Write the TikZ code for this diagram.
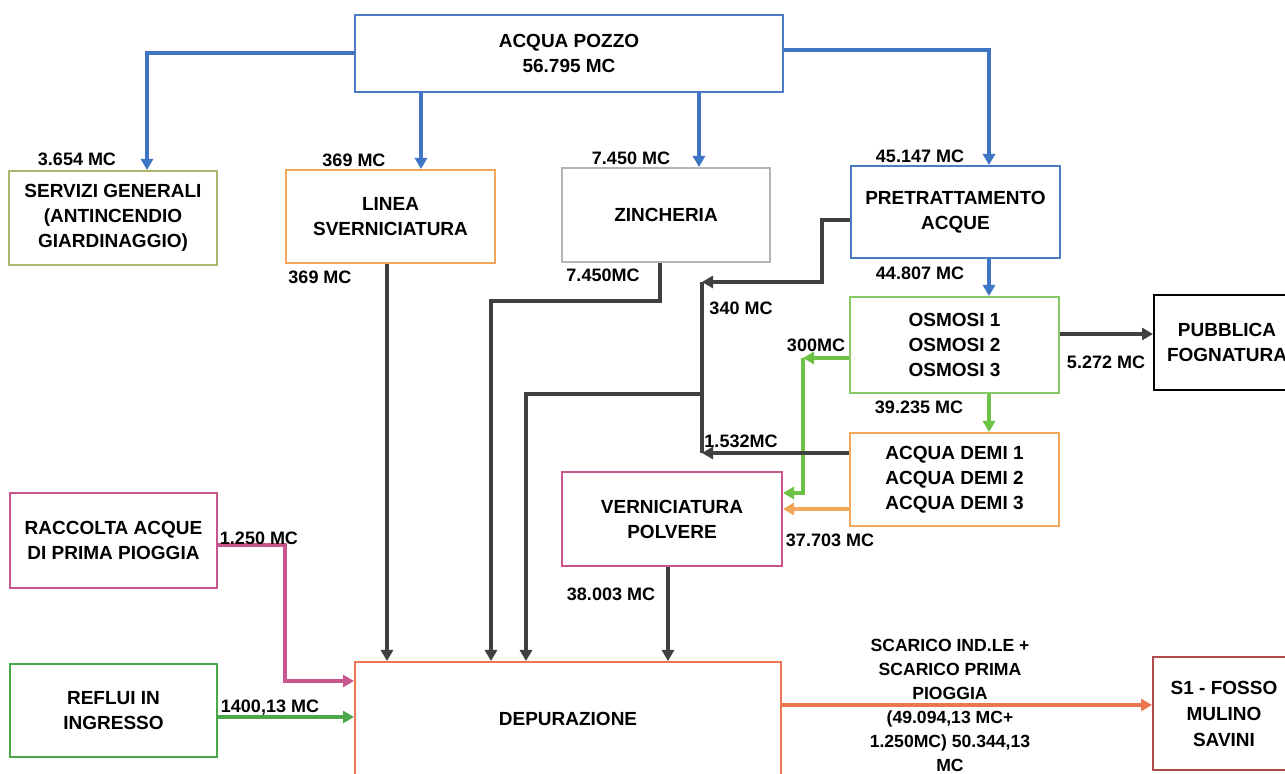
\documentclass[tikz,border=0pt]{standalone}
\usepackage{fontspec}
\setmainfont{Liberation Sans}
\usetikzlibrary{arrows.meta,positioning}

\definecolor{pozzoblue}{HTML}{4A7BC4}
\definecolor{flowblue}{HTML}{3D74C4}
\definecolor{oliveb}{HTML}{AEB56E}
\definecolor{orangeb}{HTML}{F2A65A}
\definecolor{greyb}{HTML}{B4B4B4}
\definecolor{greenb}{HTML}{86C866}
\definecolor{greenf}{HTML}{6CC244}
\definecolor{pinkb}{HTML}{C8558C}
\definecolor{darkf}{HTML}{404040}
\definecolor{depurb}{HTML}{EC7650}
\definecolor{refluib}{HTML}{4AA84A}
\definecolor{sonebox}{HTML}{B04A4A}

\begin{document}
\begin{tikzpicture}[x=0.5pt,y=-0.5pt]
			\tikzstyle{Box}		= [draw, line width=1pt, fill=white, align=center, inner sep=2pt, font=\fontsize{9.5}{12.5}\selectfont\bfseries]
			\tikzstyle{Num}		= [inner sep=0pt, font=\fontsize{9}{10}\selectfont\bfseries]
			\tikzstyle{Flow}	= [line width=2pt, -{Triangle[length=5.5pt,width=6pt]}]
			\tikzstyle{BlueFlow}	= [Flow, flowblue]
			\tikzstyle{DarkFlow}	= [Flow, darkf]
			\tikzstyle{DarkLine}	= [line width=2pt, darkf]
			\tikzstyle{GreenFlow}	= [Flow, greenf]

			\path[use as bounding box, fill=white] (0,0) rectangle (1285,774);

			% boxes
			\node (pozzo) at (569,53.5) [Box, draw=pozzoblue, minimum width=214pt, minimum height=38.5pt] {ACQUA POZZO\\56.795 MC};
			\node (servizi) at (113,218) [Box, draw=oliveb, minimum width=104pt, minimum height=47pt] {SERVIZI GENERALI\\(ANTINCENDIO\\GIARDINAGGIO)};
			\node (linea) at (390.5,216.5) [Box, draw=orangeb, minimum width=104.5pt, minimum height=46.5pt] {LINEA\\SVERNICIATURA};
			\node (zinch) at (666,215) [Box, draw=greyb, minimum width=104pt, minimum height=47pt] {ZINCHERIA};
			\node (pretr) at (955.5,212) [Box, draw=pozzoblue, minimum width=104.5pt, minimum height=46pt] {PRETRATTAMENTO\\ACQUE};
			\node (osmosi) at (954.5,345) [Box, draw=greenb, minimum width=104.5pt, minimum height=48pt] {OSMOSI 1\\OSMOSI 2\\OSMOSI 3};
			\node (fogn) at (1227,342.5) [Box, draw=black, minimum width=73pt, minimum height=47.5pt] {PUBBLICA\\FOGNATURA};
			\node (demi) at (954.5,479.5) [Box, draw=orangeb, minimum width=104.5pt, minimum height=46.5pt] {ACQUA DEMI 1\\ACQUA DEMI 2\\ACQUA DEMI 3};
			\node (vern) at (672,519) [Box, draw=pinkb, minimum width=110pt, minimum height=47pt] {VERNICIATURA\\POLVERE};
			\node (raccolta) at (113.5,540.5) [Box, draw=pinkb, minimum width=103.5pt, minimum height=47.5pt] {RACCOLTA ACQUE\\DI PRIMA PIOGGIA};
			\node (reflui) at (113.5,710.5) [Box, draw=refluib, minimum width=103.5pt, minimum height=46.5pt] {REFLUI IN\\INGRESSO};
			\node (depur) at (568,719) [Box, draw=depurb, minimum width=213pt, minimum height=57pt] {DEPURAZIONE};
			\node (sone) at (1224,713.5) [Box, draw=sonebox, minimum width=71pt, minimum height=56.5pt, font=\fontsize{9.5}{13}\selectfont\bfseries] {S1 - FOSSO\\MULINO\\SAVINI};

			% blue supply lines
			\draw [BlueFlow] (pozzo.west) -| ([xshift=17pt]servizi.north);
			\draw [BlueFlow] ([xshift=15.25pt]linea.north |- pozzo.south) -- ([xshift=15.25pt]linea.north);
			\draw [BlueFlow] ([xshift=16.5pt]zinch.north |- pozzo.south) -- ([xshift=16.5pt]zinch.north);
			\draw [BlueFlow] ([yshift=1.75pt]pozzo.east) -| ([xshift=16.75pt]pretr.north);
			\coordinate (pout) at ([xshift=16.75pt]pretr.south);
			\draw [BlueFlow] (pout) -- (pout |- osmosi.north);

			% osmosi
			\coordinate (oright) at ([yshift=5.5pt]osmosi.east);
			\draw [DarkFlow] (oright) -- (oright -| fogn.west);
			\coordinate (odown) at (pout |- osmosi.south);
			\draw [GreenFlow] (odown) -- (odown |- demi.north);
			\coordinate (oleft) at ([yshift=-6.5pt]osmosi.west);
			\coordinate (gbend) at (803,358);
			\draw [GreenFlow] (oleft) -- (gbend);
			\draw [GreenFlow] (gbend) |- ([yshift=13pt]vern.east);

			% acqua demi
			\coordinate (dorange) at ([yshift=-14.75pt]demi.west);
			\draw [Flow, orangeb] (dorange) -- (dorange -| vern.east);
			\coordinate (ddark) at ([yshift=13.25pt]demi.west);
			\coordinate (jbot) at (702,453);
			\draw [DarkFlow] (ddark) -- (jbot);

			% return lines to depurazione
			\coordinate (jtop) at (702,282);
			\draw [DarkFlow] ([yshift=-4pt]pretr.west) -- ++(-28,0) |- (jtop);
			\draw [DarkLine] (jtop) -- (jbot);
			\coordinate (jmid) at (702,394);
			\draw [DarkFlow] (jmid) -| ([xshift=-21pt]depur.north);
			\draw [DarkFlow] ([xshift=-3pt]zinch.south) -- ++(0,38) -| ([xshift=-38.5pt]depur.north);
			\coordinate (lout) at ([xshift=-1.75pt]linea.south);
			\draw [DarkFlow] (lout) -- (lout |- depur.north);
			\coordinate (vout) at ([xshift=-2pt]vern.south);
			\draw [DarkFlow] (vout) -- (vout |- depur.north);
			\draw [Flow, pinkb] ([yshift=-2.5pt]raccolta.east) -- ++(67,0) |- ([yshift=19pt]depur.west);
			\coordinate (rout) at ([yshift=-3.25pt]reflui.east);
			\draw [Flow, refluib] (rout) -- (rout -| depur.west);
			\coordinate (dout) at ([yshift=7pt]depur.east);
			\draw [Flow, depurb] (dout) -- (dout -| sone.west);

			% quantities
			\node (qservizi) at (77,159) [Num] {3.654 MC};
			\node (qlinea) at (354,160) [Num] {369 MC};
			\node (qzinch) at (631,158) [Num] {7.450 MC};
			\node (qpretr) at (920,156) [Num] {45.147 MC};
			\node (qlineaout) at (320,277) [Num] {369 MC};
			\node (qzinchout) at (603,275) [Num] {7.450MC};
			\node (qosmosi) at (920,273) [Num] {44.807 MC};
			\node (qback) at (741,308) [Num] {340 MC};
			\node (qgreen) at (816,345) [Num] {300MC};
			\node (qfogn) at (1106,362) [Num] {5.272 MC};
			\node (qdemi) at (919,407) [Num] {39.235 MC};
			\node (qdark) at (741,441) [Num] {1.532MC};
			\node (qorange) at (830,540) [Num] {37.703 MC};
			\node (qraccolta) at (259,538) [Num] {1.250 MC};
			\node (qvern) at (611,594) [Num] {38.003 MC};
			\node (qreflui) at (270,708) [Num] {1400,13 MC};
			\node (qscarico) at (950,705) [Num, align=center, font=\fontsize{8.8}{12}\selectfont\bfseries] {SCARICO IND.LE +\\SCARICO PRIMA\\PIOGGIA\\(49.094,13 MC+\\1.250MC) 50.344,13\\MC};

		\end{tikzpicture}
\end{document}
